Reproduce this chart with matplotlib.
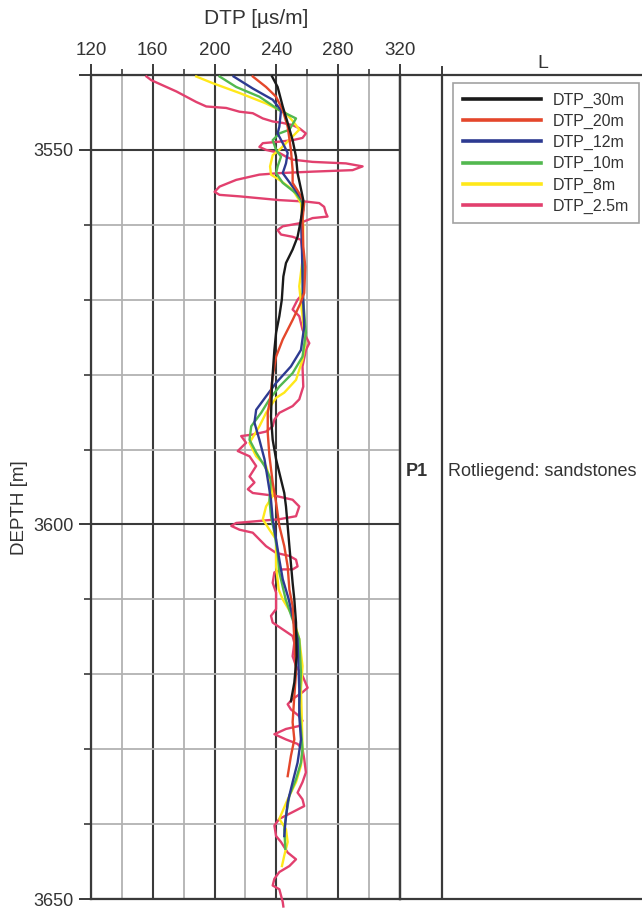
import matplotlib
matplotlib.use("Agg")
import matplotlib.pyplot as plt
from matplotlib.lines import Line2D

plt.rcParams['font.family'] = ['Liberation Sans', 'DejaVu Sans']

# ---------------- data ----------------
x_major = [120, 160, 200, 240, 280, 320]
x_minor = [140, 180, 220, 260, 300]
y_major = [3540, 3550, 3600, 3650]
y_major_labels = ['', '3550', '3600', '3650']
y_minor = [3560, 3570, 3580, 3590, 3610, 3620, 3630, 3640]

labels = ['DTP_30m', 'DTP_20m', 'DTP_12m', 'DTP_10m', 'DTP_8m', 'DTP_2.5m']
colors = ['#1a1a1a', '#e4472b', '#2d3a91', '#52b84f', '#ffe81a', '#e2406e']

d30 = [3540.2, 3541.6, 3544.2, 3546.4, 3548.7, 3550.9, 3553.1, 3555.8, 3556.7, 3559.3,
       3561.6, 3563.3, 3565.1, 3566.9, 3570.0, 3572.2, 3574.4, 3576.7, 3581.1, 3585.6,
       3588.7, 3591.3, 3593.1, 3595.8, 3597.6, 3600.2, 3602.9, 3607.8, 3610.0, 3613.1,
       3617.6, 3621.1, 3623.6]
v30 = [237.2, 240.8, 244.1, 247.3, 250.5, 252.7, 253.7, 256.5, 257.4, 255.9,
       253.7, 250.5, 246.2, 244.5, 243.5, 241.9, 239.8, 238.7, 237.2, 236.5,
       237.6, 239.8, 241.9, 245.1, 246.2, 247.3, 248.4, 250.5, 251.6, 252.7,
       253.1, 251.6, 249.4]

d20 = [3540.2, 3541.6, 3542.9, 3544.7, 3546.9, 3550.0, 3552.7, 3554.4, 3555.8, 3557.1,
       3559.3, 3562.9, 3565.6, 3569.1, 3570.5, 3572.7, 3575.3, 3577.6, 3580.2, 3583.3,
       3585.1, 3587.8, 3590.9, 3594.4, 3597.1, 3600.2, 3602.9, 3605.6, 3608.7, 3610.9,
       3615.3, 3619.8, 3622.9, 3626.4, 3628.7, 3630.9, 3633.6]
v20 = [224.7, 233.3, 239.8, 244.1, 247.3, 249.4, 250.5, 250.5, 254.8, 258.0,
       256.9, 257.4, 258.7, 258.0, 255.5, 250.5, 244.1, 239.8, 237.6, 235.9,
       234.4, 234.4, 235.5, 237.6, 239.8, 241.9, 245.1, 247.3, 248.4, 250.5,
       251.6, 252.7, 251.6, 250.5, 251.6, 249.4, 247.3]

d12 = [3540.2, 3541.8, 3543.3, 3544.7, 3546.9, 3547.8, 3549.1, 3550.4, 3551.8, 3553.1,
       3554.9, 3556.7, 3558.0, 3559.3, 3562.9, 3566.9, 3570.2, 3573.6, 3576.7, 3578.9,
       3581.1, 3582.9, 3584.7, 3586.4, 3588.7, 3591.3, 3594.0, 3596.7, 3599.3, 3602.0,
       3604.7, 3607.3, 3610.0, 3615.3, 3622.0, 3625.6, 3628.7, 3631.8, 3634.4, 3637.1,
       3639.8, 3641.6]
v12 = [212.3, 224.7, 237.6, 243.0, 241.9, 240.8, 244.1, 247.3, 246.2, 244.1,
       250.5, 256.9, 257.4, 255.9, 256.5, 256.9, 257.4, 258.0, 255.9, 249.4,
       239.8, 233.3, 226.9, 225.8, 229.0, 232.3, 234.4, 236.5, 237.6, 239.8,
       241.9, 244.1, 248.0, 253.7, 254.8, 254.8, 255.9, 253.7, 250.5, 247.3,
       245.8, 245.1]

d10 = [3540.2, 3541.6, 3542.9, 3544.7, 3545.8, 3547.3, 3547.8, 3548.7, 3550.0, 3550.9,
       3552.2, 3553.1, 3554.4, 3555.8, 3557.1, 3560.2, 3564.7, 3569.1, 3574.4, 3577.6,
       3579.8, 3581.6, 3583.3, 3585.1, 3586.9, 3588.7, 3590.4, 3592.2, 3594.0, 3596.7,
       3598.9, 3601.1, 3603.8, 3606.4, 3610.0, 3615.3, 3619.8, 3624.2, 3627.3, 3630.0,
       3631.8, 3634.0, 3636.2, 3638.9, 3640.7, 3643.3]
v10 = [203.2, 214.0, 229.0, 241.9, 252.7, 248.4, 241.9, 237.6, 239.8, 243.0,
       240.8, 239.8, 244.1, 252.7, 256.9, 256.5, 257.4, 256.9, 259.1, 256.9,
       250.5, 241.9, 235.5, 230.1, 223.7, 222.6, 226.9, 232.3, 236.5, 235.5,
       236.5, 238.7, 240.8, 241.9, 246.0, 254.8, 255.9, 254.8, 255.9, 256.9,
       255.9, 252.7, 248.4, 246.2, 245.1, 245.8]

d8 = [3540.2, 3541.1, 3542.4, 3543.8, 3545.1, 3546.4, 3547.3, 3548.2, 3549.1, 3550.0,
      3550.7, 3552.2, 3553.3, 3554.0, 3555.3, 3557.1, 3560.2, 3564.7, 3568.2, 3570.4,
      3572.2, 3575.8, 3578.0, 3580.7, 3582.4, 3583.1, 3585.1, 3586.9, 3589.1, 3590.9,
      3592.2, 3594.4, 3596.2, 3597.6, 3599.3, 3600.7, 3602.0, 3605.6, 3608.7, 3610.0,
      3612.2, 3615.3, 3618.9, 3622.0, 3626.4, 3630.0, 3632.2, 3634.4, 3636.7, 3639.3,
      3640.7, 3642.4, 3644.2, 3645.6]
v8 = [188.1, 198.9, 216.1, 233.3, 246.2, 251.6, 254.8, 250.5, 246.2, 241.9,
      237.6, 235.9, 236.5, 241.9, 250.5, 255.9, 257.4, 256.9, 254.8, 255.9,
      256.9, 258.7, 256.9, 252.7, 245.1, 239.8, 233.3, 229.0, 222.6, 226.9,
      233.3, 236.5, 237.6, 233.3, 231.2, 235.5, 239.8, 239.8, 241.5, 244.1,
      250.5, 254.8, 256.9, 255.9, 256.5, 256.9, 255.9, 252.7, 247.3, 241.9,
      246.2, 247.3, 245.1, 243.6]

d25 = [3540.2, 3540.7, 3541.6, 3542.2, 3542.9, 3543.6, 3544.2, 3544.4, 3544.9, 3545.1,
       3545.8, 3546.2, 3546.4, 3546.7, 3547.1, 3547.8, 3548.4, 3548.7, 3548.9, 3549.1,
       3549.6, 3550.0, 3550.4, 3550.9, 3551.3, 3551.6, 3551.8, 3552.2, 3552.7, 3552.9,
       3553.1, 3553.3, 3554.0, 3554.9, 3555.6, 3556.0, 3556.2, 3556.7, 3556.9, 3557.1,
       3557.6, 3558.4, 3558.9, 3559.1, 3559.8, 3560.2, 3560.7, 3561.3, 3561.6, 3562.0,
       3564.7, 3569.1, 3570.0, 3571.3, 3572.2, 3574.0, 3575.8, 3576.7, 3578.9, 3581.6,
       3583.3, 3584.2, 3585.1, 3586.0, 3586.9, 3587.6, 3588.0, 3588.2, 3589.1, 3590.2,
       3590.9, 3592.2, 3593.6, 3594.4, 3595.3, 3595.8, 3596.2, 3596.7, 3597.6, 3598.9,
       3599.3, 3599.6, 3599.8, 3600.2, 3600.7, 3601.1, 3602.0, 3602.9, 3603.8, 3604.2,
       3604.7, 3605.6, 3606.0, 3606.0, 3606.4, 3607.8, 3609.1, 3611.3, 3612.2, 3613.1,
       3614.0, 3614.9, 3615.8, 3617.6, 3618.9, 3620.2, 3621.8, 3622.4, 3623.3, 3624.0,
       3624.7, 3625.6, 3626.2, 3626.9, 3627.3, 3628.0, 3628.7, 3629.3, 3630.0, 3631.3,
       3633.1, 3634.4, 3635.8, 3636.7, 3637.6, 3638.4, 3639.3, 3640.2, 3641.6, 3642.4,
       3643.8, 3644.7, 3645.6, 3646.4, 3647.3, 3648.2, 3648.7, 3650.4, 3651.0]
v25 = [155.9, 159.1, 168.8, 175.3, 181.7, 188.1, 194.6, 207.5, 216.1, 224.7,
       231.2, 237.6, 244.1, 250.5, 254.8, 259.1, 256.9, 250.5, 241.9, 231.2,
       229.0, 233.3, 241.9, 246.2, 250.5, 263.4, 285.0, 295.8, 289.3, 263.4,
       241.9, 229.0, 214.0, 203.2, 200.0, 203.2, 216.1, 241.9, 259.1, 267.7,
       270.9, 272.0, 273.1, 263.4, 254.8, 244.1, 240.8, 243.0, 250.5, 255.9,
       257.4, 257.4, 253.7, 250.5, 254.8, 256.9, 261.3, 259.1, 256.9, 257.4,
       254.8, 250.5, 241.9, 238.7, 237.6, 233.3, 224.7, 217.2, 220.4, 215.0,
       222.6, 226.9, 222.6, 225.8, 221.5, 224.7, 239.8, 250.5, 254.8, 252.7,
       241.9, 224.7, 214.0, 210.8, 216.1, 224.7, 229.0, 233.3, 239.8, 248.4,
       252.7, 253.7, 250.5, 244.1, 238.7, 237.6, 239.8, 239.8, 236.5, 237.6,
       244.1, 250.5, 251.6, 250.5, 252.7, 256.9, 260.2, 256.9, 250.5, 247.3,
       249.4, 254.8, 256.9, 254.8, 246.2, 238.7, 246.2, 253.7, 256.9, 258.0,
       259.1, 256.9, 253.7, 256.9, 258.0, 250.5, 241.9, 238.7, 239.8, 243.0,
       247.3, 252.7, 248.4, 241.9, 238.7, 237.6, 241.9, 244.1, 244.5]

depths = [d30, d20, d12, d10, d8, d25]
values = [v30, v20, v12, v10, v8, v25]

# ---------------- figure ----------------
W, H = 642, 910
fig = plt.figure(figsize=(W / 100, H / 100), dpi=100)

def fx(px):
    return px / W

def fy(py):
    return 1 - py / H

dark = '#3a3a3a'
light = '#b2b2b2'
txt = '#333333'

ax = fig.add_axes([fx(91), fy(899), (400 - 91) / W, (899 - 75) / H])
ax.set_xlim(120, 320)
ax.set_ylim(3650, 3540)

ax.set_xticks(x_major)
ax.set_xticks(x_minor, minor=True)
ax.set_yticks(y_major)
ax.set_yticklabels(y_major_labels)
ax.set_yticks(y_minor, minor=True)
ax.xaxis.tick_top()
ax.tick_params(axis='x', which='major', length=8, width=1.4, color=dark,
               labelsize=13.5, labelcolor=txt, pad=3.5, top=True, bottom=False)
ax.tick_params(axis='x', which='minor', length=4, width=1.2, color=dark,
               top=True, bottom=False)
ax.tick_params(axis='y', which='major', length=8.6, width=1.4, color=dark,
               labelsize=13, labelcolor=txt, pad=4)
ax.tick_params(axis='y', which='minor', length=5, width=1.2, color=dark)

ax.grid(which='major', color=dark, lw=1.5)
ax.grid(which='minor', color=light, lw=1.3)
ax.set_axisbelow(True)
for s in ax.spines.values():
    s.set_color(dark)
    s.set_linewidth(1.6)

for i in range(len(labels) - 1, -1, -1):
    clip = (i != len(labels) - 1)
    ax.plot(values[i], depths[i], color=colors[i], lw=1.7, zorder=3 + (5 - i),
            clip_on=clip, solid_joinstyle='round')
handles = [Line2D([0], [0], color=c, lw=2.6) for c in colors]

# second panel: stratigraphy + L track
ax2 = fig.add_axes([fx(400), fy(899), (642 - 400) / W, (899 - 75) / H])
ax2.set_xlim(400, 642)
ax2.set_ylim(3650, 3540)
ax2.set_xticks([])
ax2.set_yticks([])
ax2.patch.set_alpha(0)
for k, s in ax2.spines.items():
    s.set_color(dark)
    s.set_linewidth(1.6)
ax2.spines['right'].set_visible(False)
ax2.axvline(442, color=dark, lw=1.6)
ax2.plot([442, 442], [3540, 3540 - 8 / 7.5], color=dark, lw=1.4, clip_on=False)

ax2.text(417, 3592.9, 'P1', ha='center', va='center', fontsize=13,
         fontweight='bold', color=txt)
ax2.text(448, 3592.9, 'Rotliegend: sandstones', ha='left', va='center',
         fontsize=13, color=txt)

fig.text(fx(256), fy(18), 'DTP [µs/m]', ha='center', va='center', fontsize=15, color=txt)
fig.text(fx(20), fy(508), 'DEPTH [m]', ha='center', va='center', rotation=90,
         fontsize=13.5, color=txt)
fig.text(fx(543), fy(64), 'L', ha='center', va='center', fontsize=14, color=txt)

leg = fig.legend(handles, labels, loc='upper left',
                 bbox_to_anchor=(fx(453), fy(83)), frameon=True, fancybox=False,
                 edgecolor='#8a8a8a', fontsize=11.5, handlelength=4.9,
                 handletextpad=0.75, labelspacing=0.38, borderpad=0.6,
                 borderaxespad=0)
leg.get_frame().set_linewidth(1.2)
for t in leg.get_texts():
    t.set_color(txt)

fig.savefig('out.png', dpi=100)
